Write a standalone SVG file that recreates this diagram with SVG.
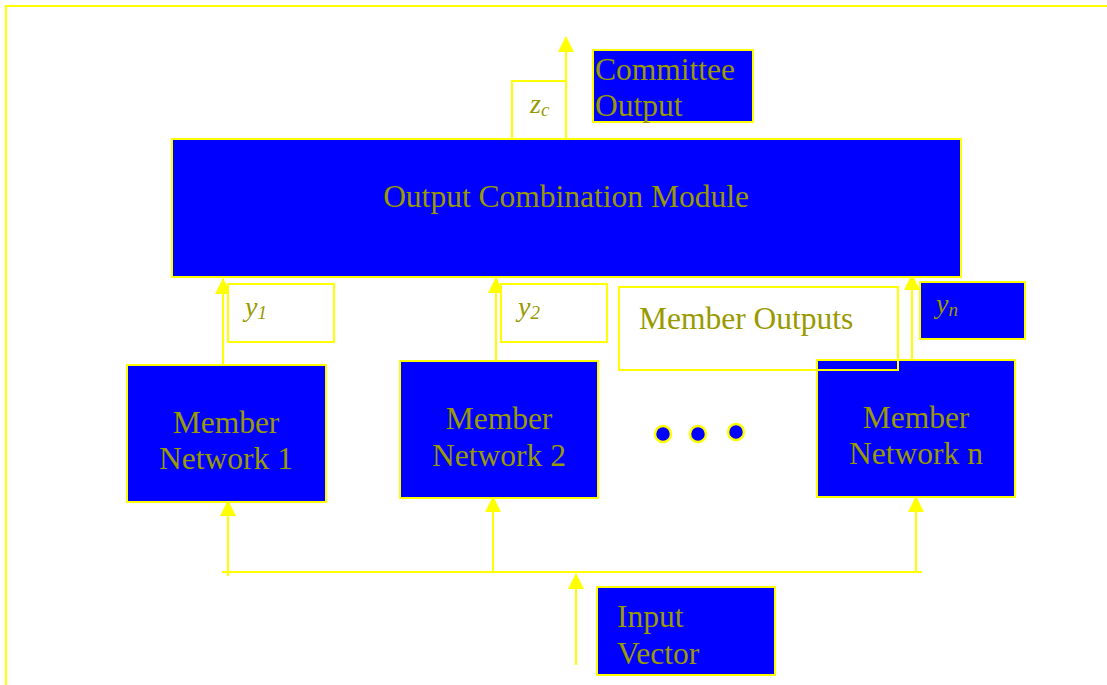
<svg xmlns="http://www.w3.org/2000/svg" width="1107" height="685" viewBox="0 0 1107 685">
<style>
.box{fill:#0000ff;stroke:#ffff00;stroke-width:2}
.wbox{fill:#ffffff;stroke:#ffff00;stroke-width:2}
.obox{fill:none;stroke:#ffff00;stroke-width:2}
.t{font-family:"Liberation Serif","Times New Roman",serif;font-size:31.5px;fill:#999900}
.ti{font-family:"Liberation Serif","Times New Roman",serif;font-style:italic;font-size:28px;fill:#999900}
.sub{font-size:19px}
.ln{stroke:#ffff00;stroke-width:2;fill:none}
.dot{fill:#0000ff;stroke:#ffff00;stroke-width:2.5}
</style>
<defs>
<marker id="ah" markerUnits="userSpaceOnUse" markerWidth="16" markerHeight="16" viewBox="0 0 16 16" refX="15" refY="8" orient="auto">
<polygon points="0,0 16,8 0,16" fill="#ffff00"/>
</marker>
</defs>
<rect width="1107" height="685" fill="#ffffff"/>
<polyline class="ln" points="6,686 6,6 1107,6"/>

<g id="connectors">
<line class="ln" x1="566" y1="139" x2="566" y2="37" marker-end="url(#ah)"/>
<line class="ln" x1="223" y1="364" x2="223" y2="279" marker-end="url(#ah)"/>
<line class="ln" x1="496" y1="361" x2="496" y2="278" marker-end="url(#ah)"/>
<line class="ln" x1="912" y1="359" x2="912" y2="275" marker-end="url(#ah)"/>
<line class="ln" x1="222" y1="572" x2="922" y2="572"/>
<line class="ln" x1="228" y1="576" x2="228" y2="501" marker-end="url(#ah)"/>
<line class="ln" x1="493" y1="572" x2="493" y2="497" marker-end="url(#ah)"/>
<line class="ln" x1="916" y1="572" x2="916" y2="497" marker-end="url(#ah)"/>
<line class="ln" x1="576" y1="665" x2="576" y2="574" marker-end="url(#ah)"/>
</g>

<g id="committee-output">
<rect class="box" x="593" y="50" width="160" height="72"/>
<text class="t" x="595" y="80">Committee</text>
<text class="t" x="595" y="116">Output</text>
</g>
<g id="zc">
<rect class="wbox" x="512" y="81" width="54" height="58"/>
<text class="ti" x="530" y="113">z<tspan class="sub" dy="3">c</tspan></text>
</g>
<g id="ocm">
<rect class="box" x="172" y="139" width="789" height="138"/>
<text class="t" x="566" y="207" text-anchor="middle">Output Combination Module</text>
</g>
<g id="y1">
<rect class="wbox" x="228" y="284" width="106" height="58"/>
<text class="ti" x="245" y="316">y<tspan class="sub" dy="3">1</tspan></text>
</g>
<g id="y2">
<rect class="wbox" x="501" y="284" width="106" height="58"/>
<text class="ti" x="518" y="316">y<tspan class="sub" dy="3">2</tspan></text>
</g>
<g id="yn">
<rect class="box" x="920" y="282" width="105" height="57"/>
<text class="ti" x="936" y="313">y<tspan class="sub" dy="3">n</tspan></text>
</g>
<g id="mn1">
<rect class="box" x="127" y="365" width="199" height="137"/>
<text class="t" x="226" y="433" text-anchor="middle">Member</text>
<text class="t" x="226" y="469" text-anchor="middle">Network 1</text>
</g>
<g id="mn2">
<rect class="box" x="400" y="361" width="198" height="137"/>
<text class="t" x="499" y="429" text-anchor="middle">Member</text>
<text class="t" x="499" y="466" text-anchor="middle">Network 2</text>
</g>
<g id="mnn">
<rect class="box" x="817" y="360" width="198" height="137"/>
<text class="t" x="916" y="428" text-anchor="middle">Member</text>
<text class="t" x="916" y="464" text-anchor="middle">Network n</text>
</g>
<g id="member-outputs">
<rect class="obox" x="619" y="287" width="279" height="83"/>
<text class="t" x="639" y="329">Member Outputs</text>
</g>
<g id="dots">
<circle class="dot" cx="663" cy="434" r="8"/>
<circle class="dot" cx="698" cy="434" r="8"/>
<circle class="dot" cx="736" cy="432" r="8"/>
</g>
<g id="input-vector">
<rect class="box" x="597" y="587" width="178" height="88"/>
<text class="t" x="617" y="627">Input</text>
<text class="t" x="617" y="664">Vector</text>
</g>
</svg>
